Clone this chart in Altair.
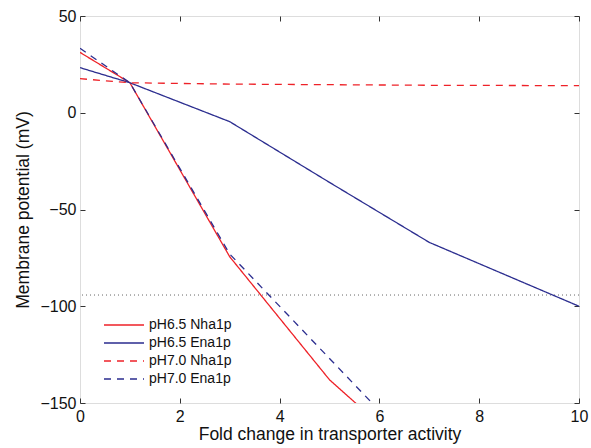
import altair as alt
import pandas as pd

# ---- data ----
series_names = ["pH6.5 Nha1p", "pH6.5 Ena1p", "pH7.0 Nha1p", "pH7.0 Ena1p"]

nha65_x = [0, 1, 3, 5, 6]
nha65_y = [31.2, 15.5, -74.4, -138.0, -161.0]

ena65_x = [0, 1, 3, 5, 7, 9, 10]
ena65_y = [23.3, 15.5, -4.6, -36.0, -67.0, -89.0, -100.0]

nha70_x = [0, 1, 3, 5, 7, 10]
nha70_y = [17.6, 15.5, 14.8, 14.5, 14.2, 14.0]

ena70_x = [0, 1, 3, 5, 6]
ena70_y = [33.3, 15.5, -73.0, -127.0, -154.0]

threshold = [-94.2]

colors = ["#ee2228", "#2b2d8f", "#ee2228", "#2b2d8f"]
dashes = [[1, 0], [1, 0], [7, 6], [7, 6]]

x_ticks = [0, 2, 4, 6, 8, 10]
y_ticks = [50, 0, -50, -100, -150]

rows = []
for name, xs, ys in zip(series_names,
                        [nha65_x, ena65_x, nha70_x, ena70_x],
                        [nha65_y, ena65_y, nha70_y, ena70_y]):
    for i, (a, b) in enumerate(zip(xs, ys)):
        rows.append({"series": name, "x": a, "y": b, "order": i})
df = pd.DataFrame(rows)
thr_df = pd.DataFrame({"y": threshold})

FONT = "Liberation Sans"
xscale = alt.Scale(domain=[0, 10], nice=False, zero=False)
yscale = alt.Scale(domain=[-150, 50], nice=False, zero=False)

x_axis = alt.Axis(values=x_ticks, offset=-5, tickSize=5, domain=False, grid=False,
                  labelPadding=5, labelFontSize=16, labelFont=FONT, labelColor="#111",
                  tickColor="#333", title="Fold change in transporter activity",
                  titleFont=FONT, titleFontSize=17.5, titleFontWeight="normal",
                  titleColor="#111", titlePadding=1, labelFlush=False)
y_axis = alt.Axis(values=y_ticks, offset=-5, tickSize=5, domain=False, grid=False,
                  labelPadding=4, labelFontSize=16, labelFont=FONT, labelColor="#111",
                  tickColor="#333", title="Membrane potential (mV)",
                  titleFont=FONT, titleFontSize=17.5, titleFontWeight="normal",
                  titleColor="#111", titlePadding=7, labelFlush=False)

x_axis_top = alt.Axis(values=x_ticks, orient="top", offset=-5, tickSize=5, domain=False,
                      grid=False, labels=False, title=None, tickColor="#333")
y_axis_right = alt.Axis(values=y_ticks, orient="right", offset=-5, tickSize=5, domain=False,
                        grid=False, labels=False, title=None, tickColor="#333")

legend_cfg = dict(title=None, orient="none", legendX=37, legendY=302,
                  symbolType="M-4,0H4", symbolSize=100, symbolStrokeWidth=1.5,
                  labelFont=FONT, labelFontSize=14, labelColor="#111",
                  rowPadding=4, labelOffset=18, padding=0)

lines = alt.Chart(df).mark_line(clip=True, strokeWidth=1.3).encode(
    x=alt.X("x:Q", scale=xscale, axis=x_axis),
    y=alt.Y("y:Q", scale=yscale, axis=y_axis),
    color=alt.Color("series:N", sort=series_names,
                    scale=alt.Scale(domain=series_names, range=colors),
                    legend=alt.Legend(**legend_cfg)),
    strokeDash=alt.StrokeDash("series:N", sort=series_names,
                              scale=alt.Scale(domain=series_names, range=dashes),
                              legend=alt.Legend(**legend_cfg)),
    order="order:Q",
)

rule = alt.Chart(thr_df).mark_rule(color="#666", strokeWidth=1, strokeDash=[1, 3]).encode(
    y=alt.Y("y:Q", scale=yscale, axis=None)
)

frame_axes = alt.Chart(df).mark_line(strokeOpacity=0).encode(
    x=alt.X("x:Q", scale=xscale, axis=x_axis_top),
    y=alt.Y("y:Q", scale=yscale, axis=y_axis_right),
    detail="series:N",
)

chart = alt.layer(rule, lines, frame_axes).resolve_axis(
    x="independent", y="independent"
).properties(
    width=499, height=387,
    autosize=alt.AutoSizeParams(type="none"),
    padding={"left": 80, "top": 16, "right": 12, "bottom": 45},
).configure_view(stroke="#333", strokeWidth=1).configure(background="white")

chart.save("out.html", embed_options={"renderer": "svg", "actions": False})
